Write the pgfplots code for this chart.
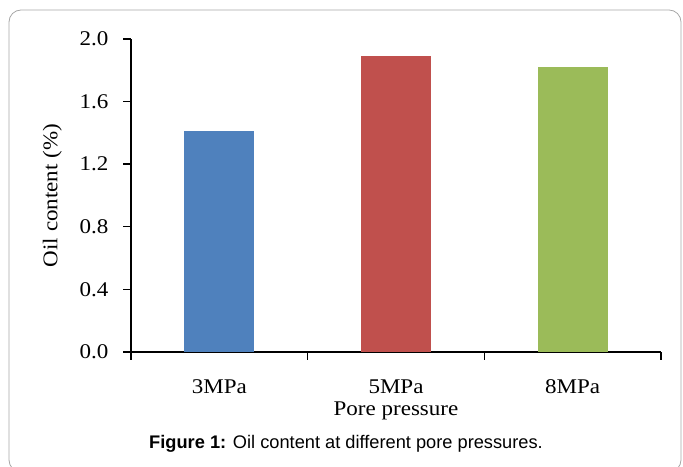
\documentclass[border=0pt]{standalone}
\usepackage{fontspec}
\setmainfont[FakeStretch=1.1]{Liberation Serif}
\newfontfamily\capfont{Liberation Sans}
\usepackage{pgfplots}
\pgfplotsset{compat=1.18}

\definecolor{xlblue}{HTML}{4F81BD}
\definecolor{xlred}{HTML}{C0504D}
\definecolor{xlgreen}{HTML}{9BBB59}
\definecolor{frame}{HTML}{A6A6A6}

\begin{document}
\begin{tikzpicture}[x=1bp,y=1bp]
\useasboundingbox (0,0) rectangle (683,467);
\draw[frame, line width=0.8bp, rounded corners=12bp] (9,-5) rectangle (681,457);
\begin{axis}[
  at={(131bp,115bp)}, anchor=south west,
  scale only axis,
  width=530bp, height=313bp,
  xmin=0, xmax=3,
  ymin=0, ymax=2.0,
  axis x line*=bottom, axis y line*=left,
  axis line style={line width=1.4bp},
  tick style={line width=1.4bp, black},
  tick align=outside,
  major tick length=8bp,
  xtick={0,1,2,3},
  xticklabels={3MPa,5MPa,8MPa},
  x tick label as interval,
  ytick={0,0.4,...,2.0},
  /pgf/number format/fixed,
  /pgf/number format/fixed zerofill,
  /pgf/number format/precision=1,
  /pgf/number format/assume math mode=true,
  tick label style={font=\fontsize{21}{23}\selectfont},
  xticklabel style={yshift=-16bp},
  yticklabel style={xshift=-11bp},
  xlabel={Pore pressure},
  ylabel={Oil content (\%)},
  label style={font=\fontsize{21}{23}\selectfont},
  xlabel style={yshift=-1bp},
  ylabel style={yshift=11bp},
  clip=false,
]
\addplot[ybar, bar width=70bp, fill=xlblue, draw=none] coordinates {(0.5,1.41)};
\addplot[ybar, bar width=70bp, fill=xlred, draw=none] coordinates {(1.5,1.89)};
\addplot[ybar, bar width=70bp, fill=xlgreen, draw=none] coordinates {(2.5,1.82)};
\end{axis}
\node[anchor=base, font=\capfont\fontsize{18.3}{21}\selectfont] at (346,18) {\textbf{Figure 1:} Oil content at different pore pressures.};
\end{tikzpicture}
\end{document}
